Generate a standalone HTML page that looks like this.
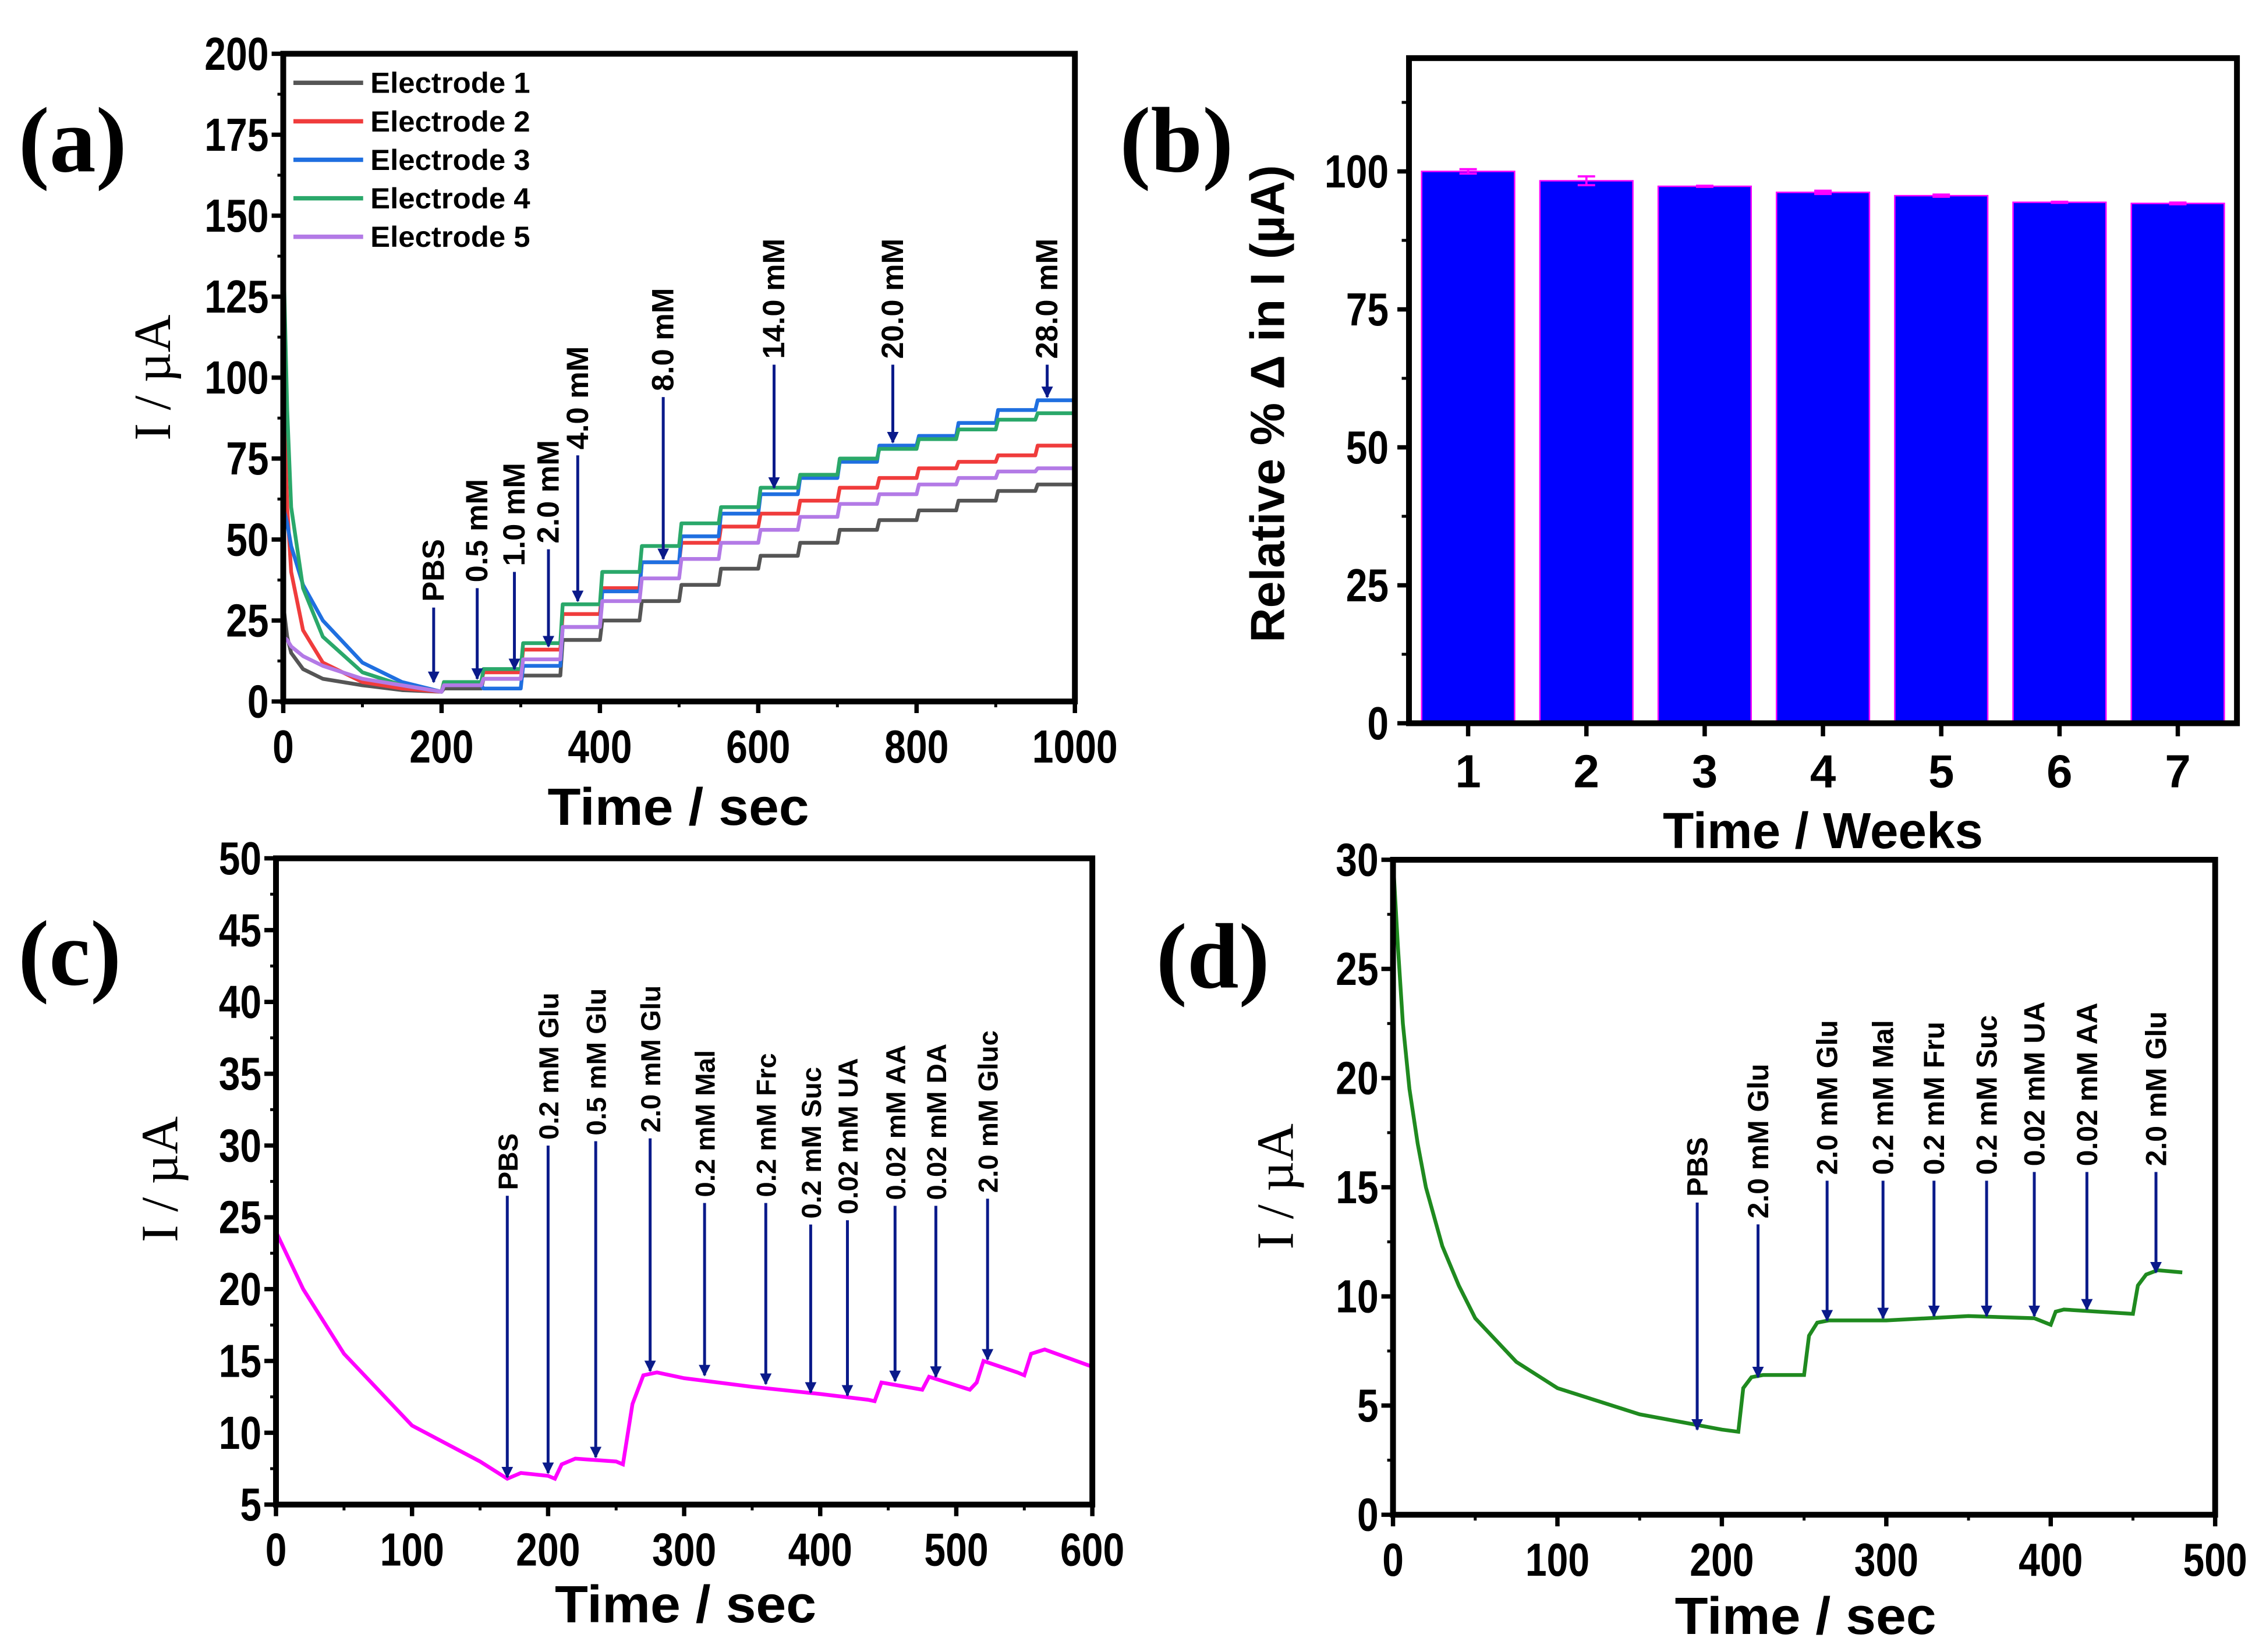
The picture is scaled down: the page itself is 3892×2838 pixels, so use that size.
<!DOCTYPE html>
<html><head><meta charset="utf-8"><style>
html,body{margin:0;padding:0;background:#fff;}
svg{display:block;}
text{font-family:"Liberation Sans",Arial,sans-serif;font-weight:bold;fill:#000;}
.serif{font-family:"Liberation Serif","Times New Roman",serif;}
.serifn{font-family:"Liberation Serif","Times New Roman",serif;font-weight:normal;}
</style></head><body>
<svg id="fig" width="3892" height="2838" viewBox="0 0 1560 1137.5" xmlns="http://www.w3.org/2000/svg"></svg>
<script>
// ---------- Panel (a) data ----------
const aDecayTimes = [0, 5, 10, 25, 50, 100, 150, 200];
const aDecay1 = [30, 20, 15, 10, 7, 5, 3.5, 3];
const aDecay2 = [100, 60, 40, 22, 12, 6, 4, 3];
const aDecay3 = [60, 55, 48, 36, 25, 12, 6, 3];
const aDecay4 = [140, 90, 60, 35, 20, 9, 5, 3];
const aDecay5 = [20, 19, 17, 14, 11, 7, 5, 3];
const aStepTimes = [200, 250, 300, 350, 400, 450, 500, 550, 600, 650, 700, 750, 800, 850, 900, 950];
const aLevels1 = [4, 7, 8, 19, 25, 31, 36, 41, 45, 49, 53, 56, 59, 62, 65, 67];
const aLevels2 = [6, 9, 16, 27, 35, 43, 49, 54, 58, 62, 66, 69, 72, 74, 76, 79];
const aLevels3 = [5, 4, 11, 23, 34, 43, 51, 58, 64, 69, 74, 79, 82, 86, 90, 93];
const aLevels4 = [6, 10, 18, 30, 40, 48, 55, 60, 66, 70, 75, 78, 81, 84, 87, 89];
const aLevels5 = [5, 7, 13, 23, 31, 38, 44, 49, 53, 57, 61, 64, 67, 69, 71, 72];
const aNames = ["Electrode 1", "Electrode 2", "Electrode 3", "Electrode 4", "Electrode 5"];
const aColors = ["#555555", "#f03c3c", "#1f6fe0", "#2aa86a", "#b37ae6"];
const aArrowLabels = ["PBS", "0.5 mM", "1.0 mM", "2.0 mM", "4.0 mM", "8.0 mM", "14.0 mM", "20.0 mM", "28.0 mM"];
const aArrowTimes = [190, 245, 292, 335, 372, 480, 620, 770, 965];
const aArrowTopVals = [29, 35, 40, 47, 76, 94, 104, 104, 104];
const aArrowEndVals = [6, 7, 10, 17, 31, 44, 66, 80, 94];
const aXTicks = [0, 200, 400, 600, 800, 1000];
const aYTicks = [0, 25, 50, 75, 100, 125, 150, 175, 200];
// ---------- Panel (b) data ----------
const bWeeks = [1, 2, 3, 4, 5, 6, 7];
const bValues = [100, 98.3, 97.3, 96.2, 95.6, 94.4, 94.2];
const bErrors = [0.4, 0.8, 0.1, 0.3, 0.2, 0.1, 0.15];
const bYTicks = [0, 25, 50, 75, 100];
// ---------- Panel (c) data ----------
const cTimes = [0, 20, 50, 100, 150, 170, 180, 200, 205, 210, 220, 250, 255, 262, 270, 280, 300, 350, 400, 435, 440, 445, 475, 480, 510, 515, 520, 545, 550, 555, 565, 600];
const cValues = [24, 20, 15.5, 10.5, 8, 6.8, 7.2, 7, 6.8, 7.8, 8.2, 8, 7.8, 12, 14, 14.2, 13.8, 13.2, 12.7, 12.3, 12.2, 13.5, 13, 13.9, 13, 13.5, 15, 14.2, 14, 15.5, 15.8, 14.6];
const cArrowLabels = ["PBS", "0.2 mM Glu", "0.5 mM Glu", "2.0 mM Glu", "0.2 mM Mal", "0.2 mM Frc", "0.2 mM Suc", "0.02 mM UA", "0.02 mM AA", "0.02 mM DA", "2.0 mM Gluc"];
const cArrowTimes = [170, 200, 235, 275, 315, 360, 393, 420, 455, 485, 523];
const cArrowTopVals = [26.5, 30, 30.3, 30.5, 26, 26, 24.5, 24.8, 25.8, 25.8, 26.3];
const cArrowEndVals = [6.9, 7.2, 8.3, 14.3, 14, 13.4, 12.8, 12.6, 13.6, 13.9, 15.1];
const cXTicks = [0, 100, 200, 300, 400, 500, 600];
const cYTicks = [5, 10, 15, 20, 25, 30, 35, 40, 45, 50];
// ---------- Panel (d) data ----------
const dTimes = [0, 3, 6, 10, 15, 20, 30, 40, 50, 75, 100, 150, 200, 210, 213, 218, 225, 250, 253, 258, 265, 300, 350, 390, 400, 403, 408, 450, 453, 458, 465, 480];
const dValues = [30, 26, 22.5, 19.5, 17, 15, 12.3, 10.5, 9, 7, 5.8, 4.6, 3.9, 3.8, 5.8, 6.3, 6.4, 6.4, 8.2, 8.8, 8.9, 8.9, 9.1, 9, 8.7, 9.3, 9.4, 9.2, 10.5, 11, 11.2, 11.1];
const dArrowLabels = ["PBS", "2.0 mM Glu", "2.0 mM Glu", "0.2 mM Mal", "0.2 mM Fru", "0.2 mM Suc", "0.02 mM UA", "0.02 mM AA", "2.0 mM Glu"];
const dArrowTimes = [185, 222, 264, 298, 329, 361, 390, 422, 464];
const dArrowTopVals = [14.3, 13.3, 15.3, 15.3, 15.3, 15.3, 15.7, 15.7, 15.7];
const dArrowEndVals = [3.9, 6.3, 8.9, 9, 9.1, 9.1, 9.1, 9.4, 11.1];
const dXTicks = [0, 100, 200, 300, 400, 500];
const dYTicks = [0, 5, 10, 15, 20, 25, 30];

const NS = "http://www.w3.org/2000/svg";
const svg = document.getElementById("fig");
function el(tag, attrs, parent) {
  const e = document.createElementNS(NS, tag);
  for (const k in attrs) e.setAttribute(k, attrs[k]);
  (parent || svg).appendChild(e);
  return e;
}
function scale(d0, d1, r0, r1) { return v => r0 + (v - d0) / (d1 - d0) * (r1 - r0); }
function condense(t, size, ratio) {
  const n = String(t.textContent).length;
  t.setAttribute("textLength", (n * size * ratio).toFixed(1));
  t.setAttribute("lengthAdjust", "spacingAndGlyphs");
}

const defs = el("defs", {});
const mk = el("marker", {id: "ah", viewBox: "0 0 10 10", refX: "9", refY: "5", markerWidth: "8", markerHeight: "14", orient: "auto", markerUnits: "userSpaceOnUse"}, defs);
el("path", {d: "M0,0 L10,5 L0,10 Z", fill: "#0a1a8a"}, mk);

function axesFrame(g, x0, y0, x1, y1, xs, ys, xTicks, yTicks, name) {
  const f = el("rect", {x: x0, y: y0, width: x1 - x0, height: y1 - y0, fill: "none", stroke: "#000", "stroke-width": 4}, g);
  
  
  xTicks.forEach((t, i) => {
    const x = xs(t);
    el("line", {x1: x, y1: y1, x2: x, y2: y1 + 8, stroke: "#000", "stroke-width": 3}, g);
    const tx = el("text", {x: x, y: y1 + 42, "text-anchor": "middle", "font-size": 32}, g);
    tx.textContent = t;
    condense(tx, 32, 0.46);
    
    
    if (i < xTicks.length - 1) {
      const xm = xs((t + xTicks[i + 1]) / 2);
      el("line", {x1: xm, y1: y1, x2: xm, y2: y1 + 4, stroke: "#000", "stroke-width": 2}, g);
    }
  });
  yTicks.forEach((t, i) => {
    const y = ys(t);
    el("line", {x1: x0, y1: y, x2: x0 - 8, y2: y, stroke: "#000", "stroke-width": 3}, g);
    const tx = el("text", {x: x0 - 10, y: y + 11, "text-anchor": "end", "font-size": 32}, g);
    tx.textContent = t;
    condense(tx, 32, 0.46);
    
    
    if (i < yTicks.length - 1) {
      const ym = ys((t + yTicks[i + 1]) / 2);
      el("line", {x1: x0, y1: ym, x2: x0 - 4, y2: ym, stroke: "#000", "stroke-width": 2}, g);
    }
  });
}
function label(g, x, y, txt, size, cls, rot, name) {
  const t = el("text", {x: x, y: y, "font-size": size, "text-anchor": "middle"}, g);
  if (cls) t.setAttribute("class", cls);
  if (rot) t.setAttribute("transform", "rotate(-90 " + x + " " + y + ")");
  t.textContent = txt;
  
  
  return t;
}
function arrows(g, xs, ys, labs, times, tops, ends, fs, name) {
  labs.forEach((lab, i) => {
    const x = xs(times[i]), yt = ys(tops[i]), ye = ys(ends[i]);
    const ln = el("line", {x1: x, y1: yt, x2: x, y2: ye, stroke: "#0a1a8a", "stroke-width": 2, "marker-end": "url(#ah)"}, g);
    
    
    const t = el("text", {x: x + 7, y: yt - 4, "font-size": fs, "text-anchor": "start", transform: "rotate(-90 " + (x + 7) + " " + (yt - 4) + ")"}, g);
    t.textContent = lab;
    
    
  });
}
function pathFrom(xsArr, vsArr, xs, ys) {
  return xsArr.map((t, i) => (i ? "L" : "M") + xs(t).toFixed(2) + "," + ys(vsArr[i]).toFixed(2)).join(" ");
}

// ===== Panel (a) =====
(function () {
  const g = el("g", {});
  
  
  const xs = scale(0, 1000, 195, 740), ys = scale(0, 200, 483, 37);
  const decs = [aDecay1, aDecay2, aDecay3, aDecay4, aDecay5];
  const levs = [aLevels1, aLevels2, aLevels3, aLevels4, aLevels5];
  decs.forEach((dec, k) => {
    let d = pathFrom(aDecayTimes, dec, xs, ys);
    levs[k].forEach((v, i) => {
      const t0 = aStepTimes[i], t1 = i + 1 < aStepTimes.length ? aStepTimes[i + 1] : 1000;
      d += " L" + xs(t0 + 3).toFixed(2) + "," + ys(v).toFixed(2) + " L" + xs(t1).toFixed(2) + "," + ys(v).toFixed(2);
    });
    const p = el("path", {d: d, fill: "none", stroke: aColors[k], "stroke-width": 2.6, "stroke-linejoin": "round"}, g);
    
    
  });
  axesFrame(g, 195, 37, 740, 483, xs, ys, aXTicks, aYTicks, "panel-a");
  arrows(g, xs, ys, aArrowLabels, aArrowTimes, aArrowTopVals, aArrowEndVals, 21, "panel-a");
  aNames.forEach((n, k) => {
    const y = 57 + k * 26.5;
    const l = el("line", {x1: 202, y1: y, x2: 250, y2: y, stroke: aColors[k], "stroke-width": 3}, g);
    
    
    const t = el("text", {x: 255, y: y + 7, "font-size": 20}, g);
    t.textContent = n;
    condense(t, 20, 0.5);
    
    
  });
  const xt = label(g, 467, 568, "Time / sec", 36, null, false, "panel-a-x-axis-title");
  condense(xt, 36, 0.5);
  label(g, 117, 260, "I / µA", 36, "serifn", true, "panel-a-y-axis-title");
  label(g, 50, 118, "(a)", 64, "serif", false, "panel-a-label");
})();

// ===== Panel (b) =====
(function () {
  const g = el("g", {});
  
  
  const xs = scale(0.5, 7.5, 970, 1540), ys = scale(0, 25, 498, 403);
  bValues.forEach((v, i) => {
    const cx = xs(bWeeks[i]), w = 64;
    const r = el("rect", {x: cx - w / 2, y: ys(v), width: w, height: ys(0) - ys(v), fill: "#0000ff", stroke: "#ff00ff", "stroke-width": 1}, g);
    
    
    const e = el("path", {d: "M" + cx + "," + ys(v - bErrors[i]) + " V" + ys(v + bErrors[i]) + " M" + (cx - 6) + "," + ys(v + bErrors[i]) + " H" + (cx + 6) + " M" + (cx - 6) + "," + ys(v - bErrors[i]) + " H" + (cx + 6), stroke: "#ff00ff", "stroke-width": 1.5, fill: "none"}, g);
    
    
  });
  const f = el("rect", {x: 970, y: 40, width: 570, height: 458, fill: "none", stroke: "#000", "stroke-width": 4}, g);
  
  
  bWeeks.forEach(w => {
    const x = xs(w);
    el("line", {x1: x, y1: 498, x2: x, y2: 507, stroke: "#000", "stroke-width": 3}, g);
    const t = el("text", {x: x, y: 542, "text-anchor": "middle", "font-size": 32}, g);
    t.textContent = w;
    
    
  });
  bYTicks.forEach(v => {
    const y = ys(v);
    el("line", {x1: 970, y1: y, x2: 962, y2: y, stroke: "#000", "stroke-width": 3}, g);
    el("line", {x1: 970, y1: ys(v + 12.5), x2: 965, y2: ys(v + 12.5), stroke: "#000", "stroke-width": 2}, g);
    const t = el("text", {x: 956, y: y + 11, "text-anchor": "end", "font-size": 32}, g);
    t.textContent = v;
    condense(t, 32, 0.46);
    
    
  });
  label(g, 1255, 584, "Time / Weeks", 35, null, false, "panel-b-x-axis-title");
  label(g, 884, 278, "Relative % Δ in I (µA)", 33, null, true, "panel-b-y-axis-title");
  label(g, 810, 118, "(b)", 64, "serif", false, "panel-b-label");
})();

// ===== Panel (c) =====
(function () {
  const g = el("g", {});
  
  
  const xs = scale(0, 600, 190, 752), ys = scale(5, 50, 1036, 591);
  const p = el("path", {d: pathFrom(cTimes, cValues, xs, ys), fill: "none", stroke: "#ff00ff", "stroke-width": 2.6}, g);
  
  
  axesFrame(g, 190, 591, 752, 1036, xs, ys, cXTicks, cYTicks, "panel-c");
  arrows(g, xs, ys, cArrowLabels, cArrowTimes, cArrowTopVals, cArrowEndVals, 19, "panel-c");
  const xt = label(g, 472, 1117, "Time / sec", 36, null, false, "panel-c-x-axis-title");
  condense(xt, 36, 0.5);
  label(g, 122, 812, "I / µA", 36, "serifn", true, "panel-c-y-axis-title");
  label(g, 48, 678, "(c)", 64, "serif", false, "panel-c-label");
})();

// ===== Panel (d) =====
(function () {
  const g = el("g", {});
  
  
  const xs = scale(0, 500, 959, 1525), ys = scale(0, 30, 1043, 592);
  const p = el("path", {d: pathFrom(dTimes, dValues, xs, ys), fill: "none", stroke: "#1f8a1f", "stroke-width": 2.6}, g);
  
  
  axesFrame(g, 959, 592, 1525, 1043, xs, ys, dXTicks, dYTicks, "panel-d");
  arrows(g, xs, ys, dArrowLabels, dArrowTimes, dArrowTopVals, dArrowEndVals, 20, "panel-d");
  const xt = label(g, 1243, 1125, "Time / sec", 36, null, false, "panel-d-x-axis-title");
  condense(xt, 36, 0.5);
  label(g, 890, 817, "I / µA", 36, "serifn", true, "panel-d-y-axis-title");
  label(g, 835, 680, "(d)", 64, "serif", false, "panel-d-label");
})();
</script>
</body></html>
